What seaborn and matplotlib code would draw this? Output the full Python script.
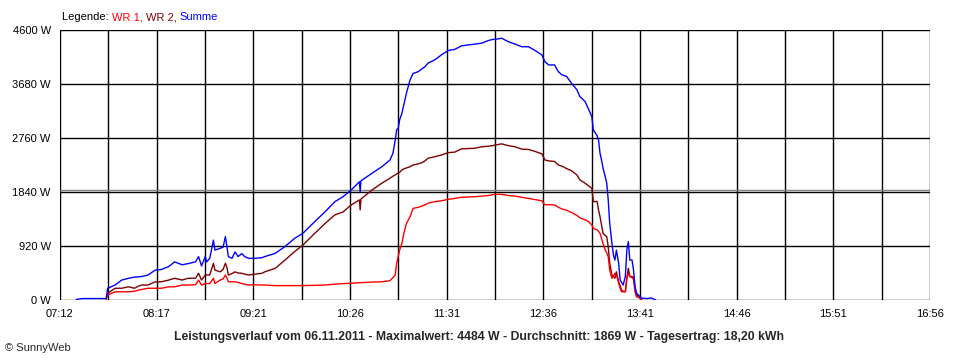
import numpy as np
import pandas as pd
import matplotlib
matplotlib.use("Agg")
import matplotlib.pyplot as plt
import seaborn as sns

# Leistungsverlauf 06.11.2011
times = [
    "07:23:00", "07:27:00", "07:43:00", "07:44:00", "07:49:00", "07:53:30", "07:58:00", "08:02:00",
    "08:05:00", "08:07:00", "08:11:00", "08:16:00", "08:20:00", "08:25:00", "08:29:00", "08:34:00",
    "08:38:00", "08:43:00", "08:45:00", "08:47:00", "08:49:30", "08:50:30", "08:52:30", "08:55:00",
    "08:56:00", "08:59:30", "09:01:30", "09:03:00", "09:04:00", "09:05:00", "09:07:30", "09:09:30",
    "09:11:30", "09:14:00", "09:16:00", "09:18:30", "09:23:00", "09:27:30", "09:29:30", "09:36:30",
    "09:43:00", "09:49:30", "09:55:00", "10:03:00", "10:10:00", "10:16:30", "10:22:00", "10:27:30",
    "10:33:00", "10:33:30", "10:34:00", "10:41:30", "10:48:00", "10:53:30", "10:55:30", "10:57:00",
    "10:58:00", "10:59:00", "11:00:00", "11:01:30", "11:02:30", "11:04:30", "11:07:00", "11:09:00",
    "11:12:30", "11:15:00", "11:17:00", "11:19:00", "11:23:30", "11:28:00", "11:32:30", "11:37:00",
    "11:41:30", "11:46:00", "11:50:30", "11:55:00", "11:59:30", "12:02:30", "12:04:00", "12:08:30",
    "12:13:00", "12:17:30", "12:22:00", "12:26:30", "12:31:00", "12:35:30", "12:37:30", "12:40:00",
    "12:44:00", "12:46:30", "12:49:00", "12:52:00", "12:55:30", "12:59:00", "13:01:00", "13:04:30",
    "13:06:30", "13:09:00", "13:10:00", "13:12:30", "13:13:30", "13:14:30", "13:15:30", "13:16:30",
    "13:18:00", "13:19:00", "13:20:00", "13:21:00", "13:22:30", "13:23:30", "13:24:30", "13:25:30",
    "13:27:00", "13:28:00", "13:29:00", "13:30:00", "13:31:30", "13:32:30", "13:33:30", "13:34:30",
    "13:36:00", "13:37:00", "13:38:00", "13:39:00", "13:41:30", "13:42:30", "13:43:30", "13:46:00",
    "13:49:00", "13:51:00", "13:52:00",
]
nan = np.nan
wr1 = [
    nan, nan, 10, 85, 140, 140, 140, 150,
    170, 180, 200, 200, 200, 225, 225, 255,
    255, 260, 340, 255, 280, 280, 280, 370,
    280, 340, 360, 425, 380, 310, 310, 310,
    300, 280, 270, 255, 260, 255, 255, 245,
    245, 245, 245, 250, 255, 270, 280, 285,
    295, 295, 295, 305, 310, 330, 380, 425,
    625, 740, 850, 965, 1100, 1300, 1420, 1560,
    1580, 1600, 1620, 1650, 1675, 1690, 1715, 1730,
    1750, 1755, 1760, 1770, 1780, 1795, 1800, 1800,
    1780, 1770, 1750, 1730, 1710, 1690, 1620, 1625,
    1620, 1580, 1550, 1530, 1490, 1440, 1400, 1365,
    1340, 1280, 1220, 1195, 1170, 1135, 1050, 965,
    850, 800, 740, 510, 370, 410, 455, 430,
    285, 200, 140, 140, 140, 370, 455, 400,
    380, 350, 140, 55, 30, 0, nan, nan,
    nan, nan, nan,
]
wr2 = [
    nan, nan, 15, 115, 200, 200, 225, 200,
    240, 255, 255, 310, 310, 340, 370, 340,
    370, 370, 455, 340, 425, 425, 425, 625,
    510, 480, 520, 625, 560, 425, 450, 480,
    460, 455, 440, 425, 440, 455, 480, 540,
    680, 825, 935, 1135, 1305, 1450, 1500, 1620,
    1705, 1535, 1720, 1875, 1990, 2075, 2110, 2130,
    2150, 2160, 2175, 2215, 2230, 2250, 2270, 2300,
    2320, 2340, 2370, 2415, 2440, 2470, 2510, 2520,
    2575, 2580, 2585, 2610, 2620, 2630, 2640, 2660,
    2630, 2610, 2570, 2565, 2530, 2490, 2385, 2370,
    2360, 2300, 2280, 2240, 2200, 2130, 2045, 1990,
    1950, 1905, 1675, 1680, 1535, 1420, 1280, 1135,
    1100, 1080, 910, 625, 425, 400, 370, 480,
    310, 240, 170, 150, 140, 370, 540, 400,
    400, 390, 200, 85, 30, 0, nan, nan,
    nan, nan, nan,
]
summe = [
    10, 25, 25, 200, 255, 340, 370, 390,
    395, 400, 425, 510, 520, 570, 650, 600,
    620, 650, 740, 580, 740, 650, 710, 1020,
    850, 880, 900, 1080, 920, 740, 710, 820,
    740, 790, 740, 710, 710, 720, 740, 795,
    910, 1050, 1135, 1335, 1505, 1675, 1760, 1875,
    2015, 1845, 2030, 2160, 2270, 2385, 2500, 2725,
    2900, 2925, 3070, 3180, 3295, 3520, 3750, 3860,
    3890, 3940, 3975, 4035, 4090, 4175, 4250, 4270,
    4330, 4345, 4360, 4375, 4420, 4440, 4440, 4460,
    4400, 4360, 4315, 4315, 4250, 4175, 4060, 4005,
    4005, 3890, 3835, 3810, 3690, 3580, 3465, 3380,
    3265, 3125, 2900, 2800, 2725, 2500, 2385, 2250,
    2100, 1990, 1705, 1305, 965, 765, 680, 850,
    625, 340, 300, 255, 400, 850, 995, 680,
    680, 510, 225, 115, 55, 30, 30, 25,
    35, 10, 0,
]
durchschnitt = 1869

x_labels = ["07:12", "08:17", "09:21", "10:26", "11:31", "12:36", "13:41", "14:46", "15:51", "16:56"]
y_ticks = [0, 920, 1840, 2760, 3680, 4600]

minutes = pd.to_timedelta(times).total_seconds() / 60
df = pd.DataFrame({"t": minutes, "WR 1": wr1, "WR 2": wr2, "Summe": summe})

sns.set_style("white")
plt.rcParams["font.family"] = ["Liberation Sans", "DejaVu Sans"]
plt.rcParams["font.size"] = 8

fig = plt.figure(figsize=(9.6, 3.6), dpi=100)
ax = fig.add_axes([60 / 960, 60 / 360, 870 / 960, 270 / 360])

x0, x1 = 7 * 60 + 12, 16 * 60 + 56
major = np.linspace(x0, x1, len(x_labels))
minor = np.linspace(x0, x1, 2 * len(x_labels) - 1)

for v in minor:
    ax.axvline(v, color="black", lw=1, zorder=1)
ax.axhline(durchschnitt, color="#808080", lw=1, zorder=1)
for v in y_ticks:
    ax.axhline(v, color="black", lw=1, zorder=1)

sns.lineplot(data=df, x="t", y="WR 2", color="#800000", lw=1, estimator=None, ax=ax, zorder=3)
sns.lineplot(data=df, x="t", y="WR 1", color="#ff0000", lw=1, estimator=None, ax=ax, zorder=3)
sns.lineplot(data=df, x="t", y="Summe", color="#0000ff", lw=1, estimator=None, ax=ax, zorder=4)

ax.set_xlim(x0, x1)
ax.set_ylim(0, 4600)
ax.set_xticks(major)
ax.set_xticklabels(x_labels)
ax.set_xticks(minor, minor=True)
ax.set_yticks(y_ticks)
ax.set_yticklabels([f"{v} W" for v in y_ticks])
ax.tick_params(axis="both", which="both", direction="out", length=3.6, width=1,
               color="black", labelsize=8, labelcolor="black", pad=3)
ax.set_xlabel("")
ax.set_ylabel("")
for s in ax.spines.values():
    s.set_visible(False)

fig.text(479 / 960, 1 - 337 / 360,
         "Leistungsverlauf vom 06.11.2011 - Maximalwert: 4484 W - Durchschnitt: 1869 W - Tagesertrag: 18,20 kWh",
         ha="center", va="center", fontsize=8.8, fontweight="bold")
fig.text(5 / 960, 1 - 348 / 360, "© SunnyWeb", ha="left", va="center", fontsize=8)

# legend line made of coloured pieces
renderer = fig.canvas.get_renderer()
xpos = 62
for txt, col in [("Legende: ", "black"), ("WR 1, ", "#ff0000"), ("WR 2, ", "#800000"), ("Summe", "#0000ff")]:
    t = fig.text(xpos / 960, 1 - 17 / 360, txt, color=col, ha="left", va="center", fontsize=8)
    xpos += t.get_window_extent(renderer).width

fig.savefig("out.png", dpi=100)
